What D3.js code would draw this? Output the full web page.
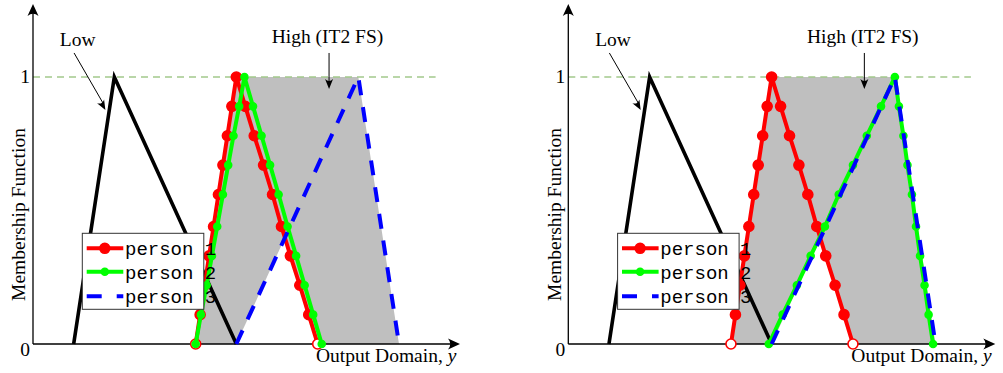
<!DOCTYPE html>
<html>
<head>
<meta charset="utf-8">
<script src="https://cdn.jsdelivr.net/npm/d3@7"></script>
<style>
  body { margin: 0; background: #fff; }
  text { fill: #000; }
</style>
</head>
<body>
<svg id="chart" width="1003" height="373"></svg>
<script>
// Membership grades of the sampled points of a triangular MF (rise, then fall)
const grades = [0, 0.11, 0.22, 0.33, 0.44, 0.56, 0.67, 0.78, 0.89, 1, 0.89, 0.78, 0.67, 0.56, 0.44, 0.33, 0.22, 0.11, 0];
const cornerGrades = [0, 1, 0];

// "Low" type-1 set
const lowX = [1, 2, 5];

// Left panel: each person's interval endpoints
const leftP1 = [4, 4.11, 4.22, 4.33, 4.44, 4.56, 4.67, 4.78, 4.89, 5, 5.22, 5.44, 5.67, 5.89, 6.11, 6.33, 6.56, 6.78, 7];
const leftP2 = [4, 4.13, 4.27, 4.4, 4.53, 4.67, 4.8, 4.93, 5.07, 5.2, 5.41, 5.62, 5.83, 6.04, 6.26, 6.47, 6.68, 6.89, 7.1];
const leftP3 = [5, 8, 9];

// Right panel
const rightP1 = [4, 4.11, 4.22, 4.33, 4.44, 4.56, 4.67, 4.78, 4.89, 5, 5.22, 5.44, 5.67, 5.89, 6.11, 6.33, 6.56, 6.78, 7];
const rightP2 = [4.93, 5.27, 5.62, 5.96, 6.31, 6.65, 7.0, 7.34, 7.69, 8.03, 8.13, 8.24, 8.34, 8.45, 8.55, 8.65, 8.76, 8.86, 8.97];
const rightP3 = [5, 8.03, 9.03];

const legendLabels = ["person 1", "person 2", "person 3"];
const yTickValues = [0, 1];
const yTickLabels = ["0", "1"];

const svg = d3.select("#chart");
const SERIF = "'Liberation Serif', 'Times New Roman', serif";
const MONO = "'Liberation Mono', 'Courier New', monospace";

// piecewise-linear MF defined by sample points, zero outside its support
function mfValue(xs, mu, x) {
  if (x <= xs[0] || x >= xs[xs.length - 1]) return 0;
  for (let i = 1; i < xs.length; i++) {
    if (x <= xs[i]) {
      const t = (x - xs[i - 1]) / (xs[i] - xs[i - 1] || 1);
      return mu[i - 1] + t * (mu[i] - mu[i - 1]);
    }
  }
  return 0;
}

function arrowHead(g, tx, ty, angleDeg, len, halfW) {
  g.append("path")
    .attr("d", `M0,0 L${-len},${-halfW} Q${-len * 0.62},0 ${-len},${halfW} Z`)
    .attr("transform", `translate(${tx},${ty}) rotate(${angleDeg})`)
    .attr("fill", "#000");
}

function drawPanel(x0, persons) {
  const g = svg.append("g");
  const x = d3.scaleLinear().domain([0, 10.5]).range([x0, x0 + 427]);
  const y = d3.scaleLinear().domain([0, 1]).range([344, 77]);

  // Footprint of uncertainty: trapezoidal UMF over all persons, LMF = pointwise min
  const starts = persons.map(p => p.xs[0]);
  const ends = persons.map(p => p.xs[p.xs.length - 1]);
  const peaks = persons.map(p => p.xs[p.mu.indexOf(1)]);
  const umf = [[d3.min(starts), 0], [d3.min(peaks), 1], [d3.max(peaks), 1], [d3.max(ends), 0]];
  const lo = d3.max(starts), hi = d3.min(ends);
  const lmf = d3.range(hi, lo - 0.0001, -0.01).map(v =>
    [v, d3.min(persons, p => mfValue(p.xs, p.mu, v))]);
  const fou = umf.concat(lmf);
  g.append("path")
    .attr("d", d3.line().x(d => x(d[0])).y(d => y(d[1]))(fou) + "Z")
    .attr("fill", "#bfbfbf");

  // reference line at full membership
  g.append("line")
    .attr("x1", x(0)).attr("x2", x(9.9))
    .attr("y1", y(1)).attr("y2", y(1))
    .attr("stroke", "#a2c98c").attr("stroke-width", 1.4)
    .attr("stroke-dasharray", "7,5");

  // "Low" triangle
  g.append("path")
    .attr("d", d3.line().x((d, i) => x(d)).y((d, i) => y(cornerGrades[i]))(lowX))
    .attr("fill", "none").attr("stroke", "#000").attr("stroke-width", 3.6)
    .attr("stroke-linejoin", "miter");

  // axes
  g.append("line").attr("x1", x0).attr("x2", x0).attr("y1", y(0)).attr("y2", 10)
    .attr("stroke", "#000").attr("stroke-width", 1.3);
  arrowHead(g, x0, 4, -90, 12, 5.5);
  g.append("line").attr("x1", x0).attr("x2", x(10.5) - 6).attr("y1", y(0)).attr("y2", y(0))
    .attr("stroke", "#000").attr("stroke-width", 1.3);
  arrowHead(g, x(10.5), y(0), 0, 12, 5.5);

  // tick labels
  g.selectAll("text.tick").data(yTickValues).join("text")
    .attr("class", "tick")
    .attr("x", x0 - 8)
    .attr("y", d => y(d) + (d === 0 ? 12 : 6))
    .attr("text-anchor", "middle")
    .style("font-family", SERIF).style("font-size", "19.5px")
    .text((d, i) => yTickLabels[i]);

  // axis titles
  const xl = g.append("text")
    .attr("x", x(6.96)).attr("y", y(0) + 18)
    .style("font-family", SERIF).style("font-size", "19.5px");
  xl.append("tspan").text("Output Domain, ");
  xl.append("tspan").style("font-style", "italic").text("y");

  g.append("text")
    .attr("transform", `translate(${x0 - 7.8},${y(0.485)}) rotate(-90)`)
    .attr("text-anchor", "middle")
    .style("font-family", SERIF).style("font-size", "19.5px")
    .text("Membership Function");

  // persons
  persons.forEach(p => {
    const line = d3.line().x((d, i) => x(d)).y((d, i) => y(p.mu[i]));
    g.append("path")
      .attr("d", line(p.xs))
      .attr("fill", "none").attr("stroke", p.color).attr("stroke-width", 4)
      .attr("stroke-dasharray", p.dash || null)
      .attr("stroke-linejoin", "round");
    if (p.r) {
      g.selectAll(null).data(p.xs).join("circle")
        .attr("cx", d => x(d)).attr("cy", (d, i) => y(p.mu[i]))
        .attr("r", p.r)
        .attr("fill", (d, i) => (p.hollowZero && p.mu[i] === 0) ? "#fff" : p.color)
        .attr("stroke", p.color).attr("stroke-width", 1.6);
    }
  });

  // legend
  const lx = x0 + 49.3, ly = 233.3;
  g.append("rect").attr("x", lx).attr("y", ly).attr("width", 121.5).attr("height", 76)
    .attr("fill", "#fff").attr("stroke", "#333").attr("stroke-width", 1);
  const rowY = [248.3, 271.8, 296.2];
  persons.forEach((p, i) => {
    g.append("line")
      .attr("x1", lx + 4.4).attr("x2", lx + 41).attr("y1", rowY[i]).attr("y2", rowY[i])
      .attr("stroke", p.color).attr("stroke-width", 4)
      .attr("stroke-dasharray", p.dash ? "15,15" : null);
    if (p.r) {
      g.append("circle").attr("cx", lx + 22.5).attr("cy", rowY[i]).attr("r", p.r)
        .attr("fill", p.color).attr("stroke", p.color).attr("stroke-width", 1.6);
    }
    g.append("text")
      .attr("x", lx + 42.7).attr("y", rowY[i] + 6.8)
      .style("font-family", MONO).style("font-size", "19px")
      .attr("xml:space", "preserve")
      .text(legendLabels[i]);
  });

  // annotations
  g.append("text").attr("x", x(0.66)).attr("y", y(1.116))
    .style("font-family", SERIF).style("font-size", "19.5px").text("Low");
  g.append("line").attr("x1", x(1.01)).attr("y1", y(1.09)).attr("x2", x(1.73)).attr("y2", y(0.90))
    .attr("stroke", "#000").attr("stroke-width", 1);
  arrowHead(g, x(1.78), y(0.876),
    Math.atan2(y(0.876) - y(1.09), x(1.78) - x(1.01)) * 180 / Math.PI, 10, 4);

  g.append("text").attr("x", x(5.87)).attr("y", y(1.127))
    .style("font-family", SERIF).style("font-size", "19.5px").text("High (IT2 FS)");
  g.append("line").attr("x1", x(7.28)).attr("y1", y(1.09)).attr("x2", x(7.28)).attr("y2", y(0.975))
    .attr("stroke", "#000").attr("stroke-width", 1);
  arrowHead(g, x(7.28), y(0.955), 90, 10, 4);
}

drawPanel(33, [
  { xs: leftP1, mu: grades, color: "#ff0000", r: 5, hollowZero: true },
  { xs: leftP2, mu: grades, color: "#00ff00", r: 3.5 },
  { xs: leftP3, mu: cornerGrades, color: "#0000ff", dash: "15,12" }
]);
drawPanel(568.3, [
  { xs: rightP1, mu: grades, color: "#ff0000", r: 5, hollowZero: true },
  { xs: rightP2, mu: grades, color: "#00ff00", r: 3.5 },
  { xs: rightP3, mu: cornerGrades, color: "#0000ff", dash: "15,12" }
]);
</script>
</body>
</html>
